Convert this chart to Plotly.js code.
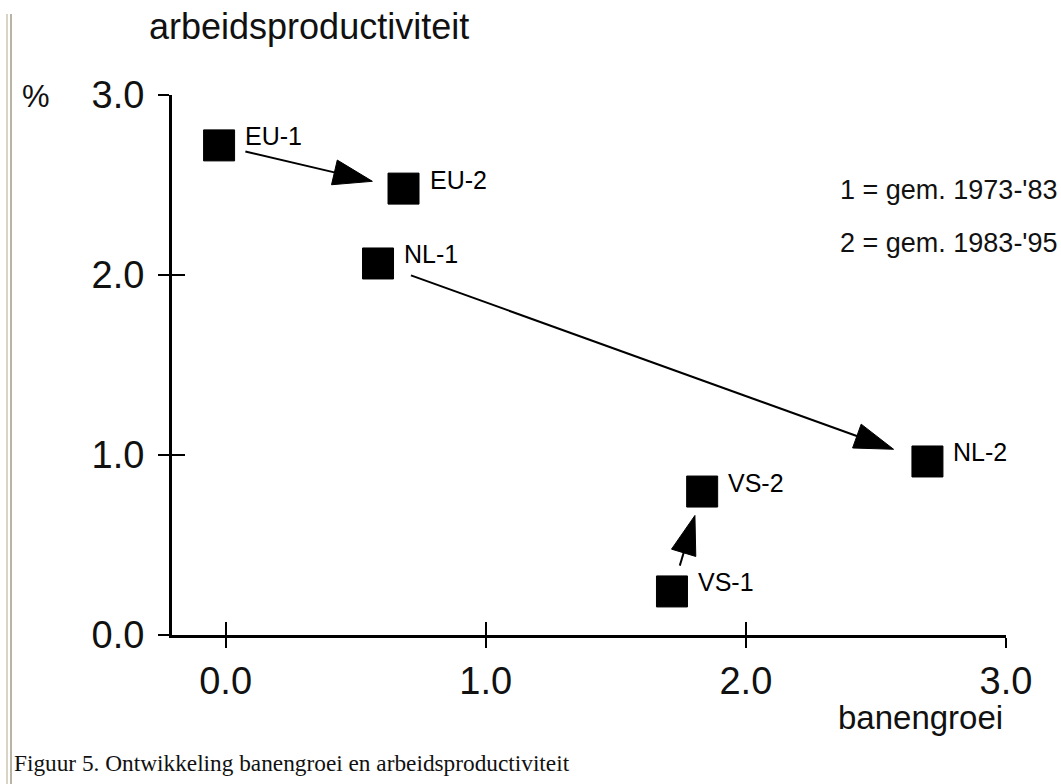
<!DOCTYPE html>
<html><head><meta charset="utf-8">
<script src="https://cdn.plot.ly/plotly-3.0.1.min.js"></script>
<style>
html,body{margin:0;padding:0;background:#fff;}
#wrap{position:relative;width:1061px;height:784px;overflow:hidden;background:#fff;}
#chart{position:absolute;left:0;top:0;width:1061px;height:784px;}
.bar1{position:absolute;left:6px;top:14px;width:2px;height:770px;background:#d8d4c6;}
.bar2{position:absolute;left:10px;top:14px;width:2px;height:770px;background:#b8b4a5;}
</style></head>
<body><div id="wrap"><div id="chart"></div><div class="bar1"></div><div class="bar2"></div></div>
<script>
// ---- data ----
const labels = ['EU-1', 'EU-2', 'NL-1', 'NL-2', 'VS-1', 'VS-2'];
const banengroei = [-0.025, 0.684, 0.586, 2.698, 1.716, 1.832];
const productiviteit = [2.72, 2.48, 2.064, 0.964, 0.242, 0.797];
const arrowFrom = ['EU-1', 'NL-1', 'VS-1'];
const arrowTo = ['EU-2', 'NL-2', 'VS-2'];
const xTickVals = [0, 1, 2, 3];
const xTickText = ['0.0', '1.0', '2.0', '3.0'];
const yTickVals = [0, 1, 2, 3];
const yTickText = ['0.0', '1.0', '2.0', '3.0'];
const legendLines = ["1 = gem. 1973-'83", "2 = gem. 1983-'95"];
const yTitle = 'arbeidsproductiviteit';
const xTitle = 'banengroei';
const unitText = '%';
const caption = 'Figuur 5. Ontwikkeling banengroei en arbeidsproductiviteit';

// ---- layout geometry / style ----
const W = 1061, H = 784, ML = 172, MR = 55, MT = 95, MB = 149;
const PW = W - ML - MR, PH = H - MT - MB;
const xRange = [-0.206, 3.0], yRange = [0, 3.0];
const arrowStartGap = [27, 35, 27];
const arrowEndGap = [32, 36, 25];
const SANS = 'Liberation Sans, Arial, Helvetica, sans-serif';
const SERIF = 'Liberation Serif, Times New Roman, serif';
const px2x = p => (p - ML) / PW;
const py2y = p => (H - MB - p) / PH;
const pxPerX = PW / (xRange[1] - xRange[0]);
const pxPerY = PH / (yRange[1] - yRange[0]);

const traces = [];
// arrows
arrowFrom.forEach((a, k) => {
  const i = labels.indexOf(a), j = labels.indexOf(arrowTo[k]);
  const x1 = banengroei[i], y1 = productiviteit[i];
  const x2 = banengroei[j], y2 = productiviteit[j];
  const dxp = (x2 - x1) * pxPerX, dyp = (y2 - y1) * pxPerY;
  const L = Math.sqrt(dxp * dxp + dyp * dyp);
  const t0 = arrowStartGap[k] / L, t1 = 1 - arrowEndGap[k] / L;
  traces.push({
    type: 'scatter', mode: 'lines+markers',
    x: [x1 + (x2 - x1) * t0, x1 + (x2 - x1) * t1],
    y: [y1 + (y2 - y1) * t0, y1 + (y2 - y1) * t1],
    line: {color: '#000', width: 2, backoff: 'auto'},
    marker: {symbol: 'arrow', size: [0, 41], angleref: 'previous', color: '#000', opacity: 1,
             line: {width: 1, color: '#000'}},
    opacity: 1,
    hoverinfo: 'skip', showlegend: false
  });
});
// points
traces.push({
  type: 'scatter', mode: 'markers', x: banengroei, y: productiviteit, text: labels,
  marker: {symbol: 'square', size: 31, color: '#000', opacity: 1, line: {color: '#000', width: 1}},
  hoverinfo: 'text', showlegend: false
});
// dummy trace for overlay tick axes
traces.push({type: 'scatter', x: [], y: [], xaxis: 'x2', yaxis: 'y2', showlegend: false, hoverinfo: 'skip'});

const annotations = labels.map((l, i) => ({
  x: banengroei[i], y: productiviteit[i], xref: 'x', yref: 'y', text: l, showarrow: false,
  xanchor: 'left', yanchor: 'middle', xshift: 24, yshift: 9,
  font: {family: SANS, size: 25, color: '#000'}
}));
legendLines.forEach((t, k) => annotations.push({
  xref: 'paper', yref: 'paper', x: px2x(838), y: py2y(190 + 53 * k), text: t, showarrow: false,
  xanchor: 'left', yanchor: 'middle', font: {family: SANS, size: 27, color: '#111'}
}));
annotations.push({xref: 'paper', yref: 'paper', x: px2x(147), y: py2y(27), text: yTitle, showarrow: false,
  xanchor: 'left', yanchor: 'middle', font: {family: SANS, size: 36, color: '#111'}});
annotations.push({xref: 'paper', yref: 'paper', x: px2x(20), y: py2y(96), text: unitText, showarrow: false,
  xanchor: 'left', yanchor: 'middle', font: {family: SANS, size: 31, color: '#111'}});
annotations.push({xref: 'paper', yref: 'paper', x: px2x(836), y: py2y(717), text: xTitle, showarrow: false,
  xanchor: 'left', yanchor: 'middle', font: {family: SANS, size: 33, color: '#111'}});
annotations.push({xref: 'paper', yref: 'paper', x: px2x(12), y: py2y(763), text: caption, showarrow: false,
  xanchor: 'left', yanchor: 'middle', font: {family: SERIF, size: 23.3, color: '#111'}});

const tickFont = {family: SANS, size: 38, color: '#111'};
const layout = {
  width: W, height: H,
  margin: {l: ML, r: MR, t: MT, b: MB, pad: 0},
  paper_bgcolor: '#fff', plot_bgcolor: '#fff',
  showlegend: false,
  xaxis: {range: xRange, tickmode: 'array', tickvals: xTickVals, ticktext: xTickText,
    ticks: 'outside', ticklen: 10, tickwidth: 2, tickcolor: '#000',
    showline: true, linewidth: 3, linecolor: '#000', showgrid: false, zeroline: false,
    tickfont: tickFont, ticklabelstandoff: 0, fixedrange: true},
  yaxis: {range: yRange, tickmode: 'array', tickvals: yTickVals, ticktext: yTickText,
    ticks: 'outside', ticklen: 11, tickwidth: 2, tickcolor: '#000',
    showline: true, linewidth: 3, linecolor: '#000', showgrid: false, zeroline: false,
    tickfont: tickFont, ticklabelstandoff: 6, fixedrange: true},
  xaxis2: {range: xRange, overlaying: 'x', anchor: 'y', side: 'bottom', tickmode: 'array', tickvals: xTickVals,
    ticks: 'inside', ticklen: 13, tickwidth: 2, tickcolor: '#000', showticklabels: false,
    showline: false, showgrid: false, zeroline: false, fixedrange: true},
  yaxis2: {range: yRange, overlaying: 'y', anchor: 'x', side: 'left', tickmode: 'array', tickvals: yTickVals,
    ticks: 'inside', ticklen: 13, tickwidth: 2, tickcolor: '#000', showticklabels: false,
    showline: false, showgrid: false, zeroline: false, fixedrange: true},
  annotations: annotations
};
Plotly.newPlot('chart', traces, layout, {displayModeBar: false, staticPlot: true});
</script>
</body></html>
